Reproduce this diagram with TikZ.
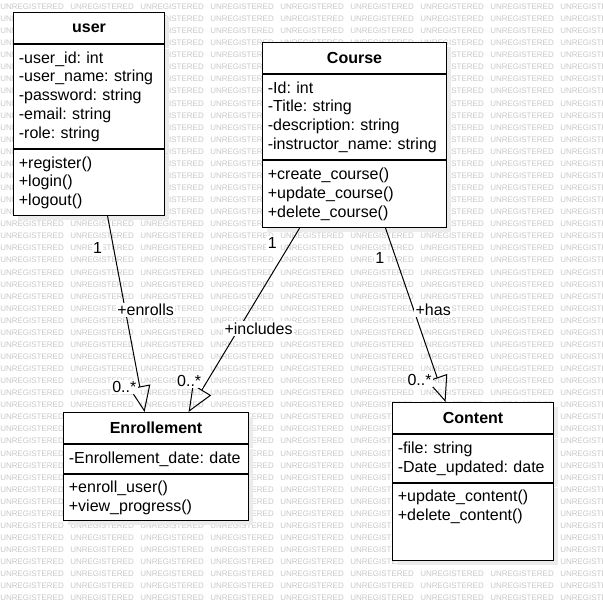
\documentclass[tikz,border=0pt]{standalone}
\usepackage{fontspec}
\setmainfont{Liberation Sans}
\usepackage{tikz}
\usetikzlibrary{arrows.meta,shadows}
\usepackage{xcolor}
\frenchspacing
\newcommand{\umlfont}{\fontsize{12pt}{14.1pt}\selectfont}
\tikzset{
    classbox/.style={draw, line width=0.8pt, fill=white, anchor=north west, inner sep=0pt,
        drop shadow={shadow xshift=3.5pt, shadow yshift=-3.5pt, fill=black!8, opacity=1}},
    classhead/.style={classbox, font=\umlfont\bfseries, minimum width=#1, minimum height=23.25pt},
    classpart/.style={classbox, font=\umlfont, align=left, inner xsep=4pt, text width=#1},
    assoc/.style={line width=0.75pt, -{Triangle[open, length=19.5pt, width=16pt]}},
    lbl/.style={font=\umlfont, fill=white, inner sep=1pt},
    watermark/.style={font=\fontsize{6pt}{7pt}\selectfont, text=black!22, anchor=west, inner sep=0pt}
}

\begin{document}
\begin{tikzpicture}[x=0.75pt, y=-0.75pt]
    \useasboundingbox (0,0) rectangle (603,608);
    \foreach \r in {0,...,49} {
        \foreach \c in {0,...,8} {
            \node[watermark] (wm-\r-\c) at ({70*\c},{6.7+12.07*\r}) {UNREGISTERED};
        }
    }

    \node[classhead=113.25pt] (user) at (13,12) {user};
    \node[classpart=105.25pt, minimum height=78pt] (user-a) at (user.south west)
        {-user\_id: int\\-user\_name: string\\-password: string\\-email: string\\-role: string};
    \node[classpart=105.25pt, minimum height=49.5pt] (user-m) at (user-a.south west)
        {+register()\\+login()\\+logout()};

    \node[classhead=138pt] (course) at (262,42) {Course};
    \node[classpart=130pt, minimum height=63.75pt] (course-a) at (course.south west)
        {-Id: int\\-Title: string\\-description: string\\-instructor\_name: string};
    \node[classpart=130pt, minimum height=50.25pt] (course-m) at (course-a.south west)
        {+create\_course()\\+update\_course()\\+delete\_course()};

    \node[classhead=138.75pt] (enroll) at (63,412) {Enrollement};
    \node[classpart=130.75pt, minimum height=21.75pt] (enroll-a) at (enroll.south west)
        {-Enrollement\_date: date};
    \node[classpart=130.75pt, minimum height=34.5pt] (enroll-m) at (enroll-a.south west)
        {+enroll\_user()\\+view\_progress()};

    \node[classhead=120.75pt] (content) at (392,402) {Content};
    \node[classpart=112.75pt, minimum height=36pt] (content-a) at (content.south west)
        {-file: string\\-Date\_updated: date};
    \node[classpart=112.75pt, text height=13.5pt, text depth=44.25pt] (content-m) at (content-a.south west)
        {+update\_content()\\+delete\_content()};

    \draw[assoc] ([xshift=13.9pt]user-m.south)
        -- node[lbl, pos=0.16, xshift=-11.9pt] (enrolls-one) {1}
           node[lbl, pos=0.48, xshift=15.2pt] (enrolls) {+enrolls}
           node[lbl, pos=0.87, xshift=-11.6pt] (enrolls-many) {0..*}
        ([xshift=-8.6pt]enroll.north);
    \draw[assoc] ([xshift=-41.25pt]course-m.south)
        -- node[lbl, pos=0.08, xshift=-13.8pt] (includes-one) {1}
           node[lbl, pos=0.545, xshift=14.6pt] (includes) {+includes}
           node[lbl, pos=0.83, xshift=-13.7pt] (includes-many) {0..*}
        ([xshift=24.4pt]enroll.north);
    \draw[assoc] ([xshift=23.25pt]course-m.south)
        -- node[lbl, pos=0.17, xshift=-12pt] (has-one) {1}
           node[lbl, pos=0.47, xshift=14.6pt] (has) {+has}
           node[lbl, pos=0.876, xshift=-13.9pt] (has-many) {0..*}
        ([xshift=-20.6pt]content.north);
\end{tikzpicture}
\end{document}
